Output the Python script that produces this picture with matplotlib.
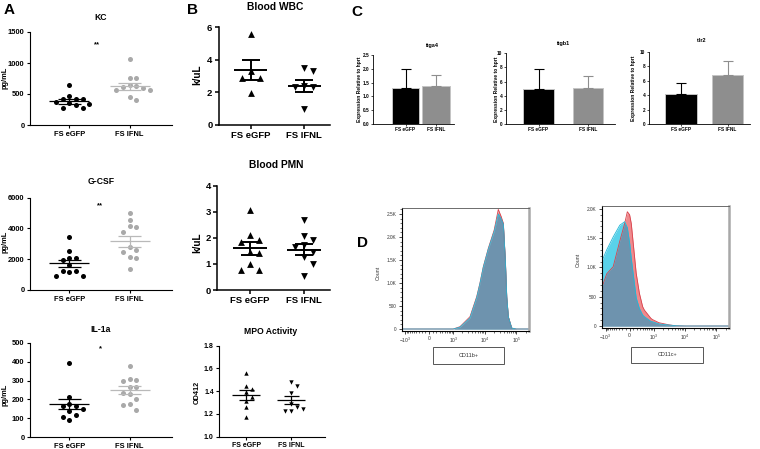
import matplotlib
matplotlib.use('Agg')
import matplotlib.pyplot as plt
import numpy as np
from matplotlib.patches import Rectangle
from matplotlib.ticker import FixedLocator

plt.rcParams['font.family'] = ['Liberation Sans', 'DejaVu Sans']
plt.rcParams['mathtext.fontset'] = 'custom'
plt.rcParams['mathtext.rm'] = 'Liberation Sans'

# ---------------- data ----------------
groups = ['FS eGFP', 'FS IFNL']

# panel A: cytokines (pg/mL)
kc_egfp = [640, 460, 427, 416, 416, 378, 351, 340, 319, 281, 281]
kc_ifnl = [1060, 755, 755, 640, 625, 610, 600, 565, 560, 450, 405]
kc_mean = [380, 625]
kc_sem = [40, 55]

gcsf_egfp = [3450, 2510, 2080, 2080, 1950, 1630, 1260, 1250, 1200, 910, 910]
gcsf_ifnl = [4980, 4570, 4160, 4100, 3790, 2820, 2600, 2470, 2140, 2080, 1340]
gcsf_mean = [1730, 3180]
gcsf_sem = [250, 360]

il1a_egfp = [391, 215, 176, 165, 165, 150, 141, 118, 109, 92]
il1a_ifnl = [377, 310, 303, 297, 268, 264, 236, 229, 202, 176, 172, 144]
il1a_mean = [176, 250]
il1a_sem = [25, 22]

# panel B: blood counts (k/uL) and MPO (OD412)
wbc_egfp = [5.6, 3.3, 2.9, 2.9, 1.95]
wbc_ifnl = [3.5, 3.3, 2.38, 2.3, 2.3, 0.98]
wbc_mean = [3.38, 2.38]
wbc_sem = [0.62, 0.37]

pmn_egfp = [3.07, 2.12, 1.92, 1.85, 1.45, 1.4, 1.0, 0.75, 0.75]
pmn_ifnl = [2.68, 2.06, 1.93, 1.72, 1.65, 1.47, 1.27, 0.98, 0.55]
pmn_mean = [1.6, 1.55]
pmn_sem = [0.24, 0.2]

mpo_egfp = [1.56, 1.45, 1.42, 1.39, 1.35, 1.31, 1.26, 1.17]
mpo_ifnl = [1.48, 1.445, 1.387, 1.287, 1.258, 1.226, 1.226, 1.24]
mpo_mean = [1.366, 1.322]
mpo_sem = [0.042, 0.035]

# panel C: expression relative to hprt (mean, SEM)
itga4_mean = [1.3, 1.38]
itga4_err = [0.68, 0.4]
itgb1_mean = [4.95, 5.05]
itgb1_err = [2.83, 1.7]
tlr2_mean = [4.15, 6.8]
tlr2_err = [1.5, 1.92]

# panel D: flow histograms (count vs fluorescence)
cd11b_x = [-1300, -500, 0, 500, 1000, 1660, 3460, 5630, 7150, 9100, 13100,
           20000, 27000, 33000, 38900, 45000, 49800, 56000, 71500, 100000, 250000]
cd11b_red = [0, 0, 0, 0, 0, 50, 267, 702, 1000, 1354, 1754,
             2150, 2600, 2450, 2300, 1500, 702, 267, 20, 0, 0]
cd11b_cyan = [0, 0, 0, 0, 0, 40, 240, 680, 990, 1340, 1740,
              2120, 2500, 2400, 2280, 1480, 690, 260, 20, 0, 0]

cd11c_x = [-1350, -920, -541, -280, -132, -60, 0, 44, 180, 280, 397,
           466, 812, 920, 1515, 3130, 5050, 10360, 100000, 250000]
cd11c_red = [650, 890, 1012, 1450, 1750, 1950, 1900, 1750, 900, 558, 330,
             273, 131, 110, 56, 20, 5, 0, 0, 0]
cd11c_cyan = [1100, 1300, 1520, 1720, 1780, 1680, 1420, 1150, 480, 300, 188,
              160, 80, 73, 35, 17, 5, 0, 0, 0]

# ---------------- figure helpers ----------------
W, H = 760, 449
fig = plt.figure(figsize=(W / 100, H / 100), dpi=100)


def add_ax(x0, y0, x1, y1):
    return fig.add_axes([x0 / W, 1 - y1 / H, (x1 - x0) / W, (y1 - y0) / H])


def ftext(x, y, s, **kw):
    kw.setdefault('ha', 'center')
    kw.setdefault('va', 'center')
    fig.text(x / W, 1 - y / H, s, **kw)


def swarm_x(ax, xc, vals, diam):
    # spread points sideways (in pixels) when their values are close
    pts = ax.transData.transform(np.column_stack([np.full(len(vals), xc), vals]))
    step = diam * 1.4
    placed = []
    xs = []
    for px, py in pts:
        for k in [0, 1, -1, 2, -2, 3, -3, 4, -4, 5, -5]:
            cx = px + k * step
            if all(abs(py - qy) >= diam * 1.3 or abs(cx - qx) >= step * 0.9
                   for qx, qy in placed):
                break
        placed.append((cx, py))
        xs.append(ax.transData.inverted().transform((cx, py))[0])
    return xs


def dot_panel(box, data, means, sems, ylim, yticks, yticklabels, xlim, st):
    ax = add_ax(*box)
    ax.set_xlim(*xlim)
    ax.set_ylim(*ylim)
    for i, vals in enumerate(data):
        xs = swarm_x(ax, i, vals, st['diam'])
        ax.scatter(xs, vals, s=st['s'], marker=st['markers'][i], color=st['colors'][i],
                   linewidths=0, clip_on=False, zorder=3)
        lc = st['lcolors'][i]
        ax.hlines(means[i], i - st['half'], i + st['half'], color=lc, lw=st['lw'], zorder=4)
        ax.vlines(i, means[i] - sems[i], means[i] + sems[i], color=lc, lw=st['lw'], zorder=4)
        ax.hlines([means[i] - sems[i], means[i] + sems[i]], i - st['cap'], i + st['cap'],
                  color=lc, lw=st['lw'], zorder=4)
    for side in ['top', 'right']:
        ax.spines[side].set_visible(False)
    for side in ['left', 'bottom']:
        ax.spines[side].set_linewidth(st['spine'])
    ax.set_xticks([0, 1])
    ax.set_xticklabels(groups, fontsize=st['fs'], fontweight='bold')
    ax.set_yticks(yticks)
    ax.set_yticklabels(yticklabels, fontsize=st['fs'], fontweight='bold')
    ax.tick_params(length=st['tick'], width=st['spine'], pad=1.5)
    ax.patch.set_alpha(0)
    return ax


style_a = dict(diam=4.8, s=13, markers=['o', 'o'], colors=['black', '#a9a9a9'],
               lcolors=['black', '#b9b9b9'], half=0.33, cap=0.19, lw=0.9,
               spine=0.8, fs=5.4, tick=2.5)
style_b = dict(diam=6.5, s=24, markers=['^', 'v'], colors=['black', 'black'],
               lcolors=['black', 'black'], half=0.31, cap=0.17, lw=1.4,
               spine=1.1, fs=6.8, tick=3)
style_mpo = dict(diam=4.2, s=10, markers=['^', 'v'], colors=['black', 'black'],
                 lcolors=['black', 'black'], half=0.31, cap=0.17, lw=0.9,
                 spine=0.8, fs=5.0, tick=2.5)

# ---------------- panel A ----------------
xa = (-0.65, 1.7)
ax = dot_panel((30, 32, 172, 125), [kc_egfp, kc_ifnl], kc_mean, kc_sem, (0, 1500),
               [0, 500, 1000, 1500], ['0', '500', '1000', '1500'], xa, style_a)
ax.text(0.46, 1290, '**', fontsize=5.5, fontweight='bold', ha='center', va='center')
ftext(101, 17, 'KC', fontsize=6.2, fontweight='bold')
ftext(5, 78, 'pg/mL', fontsize=5.4, fontweight='bold', rotation=90)

ax = dot_panel((30, 197.7, 172, 290), [gcsf_egfp, gcsf_ifnl], gcsf_mean, gcsf_sem, (0, 6000),
               [0, 2000, 4000, 6000], ['0', '2000', '4000', '6000'], xa, style_a)
ax.text(0.51, 5500, '**', fontsize=5.5, fontweight='bold', ha='center', va='center')
ftext(101, 182, 'G-CSF', fontsize=6.2, fontweight='bold')
ftext(5, 242, 'pg/mL', fontsize=5.4, fontweight='bold', rotation=90)

ax = dot_panel((30, 342.7, 172, 437.3), [il1a_egfp, il1a_ifnl], il1a_mean, il1a_sem, (0, 500),
               [0, 100, 200, 300, 400, 500], ['0', '100', '200', '300', '400', '500'], xa, style_a)
ax.text(0.51, 470, '*', fontsize=5.5, fontweight='bold', ha='center', va='center')
ftext(101, 329, 'IL-1a', fontsize=6.2, fontweight='bold')
ftext(5, 395, 'pg/mL', fontsize=5.4, fontweight='bold', rotation=90)

ftext(9, 10, 'A', fontsize=11, fontweight='bold')

# ---------------- panel B ----------------
xb = (-0.6, 1.48)
ax = dot_panel((218.7, 27.3, 330, 124.7), [wbc_egfp, wbc_ifnl], wbc_mean, wbc_sem, (0, 6),
               [0, 2, 4, 6], ['0', '2', '4', '6'], xb, style_b)
ftext(275, 7, 'Blood WBC', fontsize=7.4, fontweight='bold')
ftext(197, 75, 'k/uL', fontsize=7.2, fontweight='bold', rotation=90)

ax = dot_panel((217.3, 185.7, 330, 290), [pmn_egfp, pmn_ifnl], pmn_mean, pmn_sem, (0, 4),
               [0, 1, 2, 3, 4], ['0', '1', '2', '3', '4'], xb, style_b)
ftext(276.7, 165, 'Blood PMN', fontsize=7.4, fontweight='bold')
ftext(197, 243, 'k/uL', fontsize=7.2, fontweight='bold', rotation=90)

ax = dot_panel((219.3, 345.7, 325, 436.7), [mpo_egfp, mpo_ifnl], mpo_mean, mpo_sem, (1.0, 1.8),
               [1.0, 1.2, 1.4, 1.6, 1.8], ['1.0', '1.2', '1.4', '1.6', '1.8'], (-0.6, 1.75),
               style_mpo)
ftext(271, 331, 'MPO Activity', fontsize=6.2, fontweight='bold')
ftext(197.3, 392, 'OD412', fontsize=5.2, fontweight='bold', rotation=90)

ftext(193, 10, 'B', fontsize=11, fontweight='bold')

# ---------------- panel C ----------------
bar_colors = ['black', '#8e8e8e']


def bar_panel(box, means, errs, ylim, yticks, yticklabels, xlim, width):
    ax = add_ax(*box)
    ax.bar([0, 1], means, width=width, color=bar_colors, edgecolor='#c4c4c4', linewidth=0.7)
    for i in range(2):
        ax.errorbar(i, means[i], yerr=[[0], [errs[i]]], color=bar_colors[i],
                    elinewidth=0.8, capsize=3.5, capthick=0.8)
    ax.set_xlim(*xlim)
    ax.set_ylim(*ylim)
    for side in ['top', 'right']:
        ax.spines[side].set_visible(False)
    for side in ['left', 'bottom']:
        ax.spines[side].set_linewidth(0.6)
    ax.set_xticks([0, 1])
    ax.set_xticklabels(groups, fontsize=3.4, fontweight='bold')
    ax.set_yticks(yticks)
    ax.set_yticklabels(yticklabels, fontsize=3.4, fontweight='bold')
    ax.tick_params(length=1.5, width=0.5, pad=1)
    ax.patch.set_alpha(0)
    return ax


bar_panel((373.3, 55, 454, 124), itga4_mean, itga4_err, (0, 2.5),
          [0, 0.5, 1.0, 1.5, 2.0, 2.5], ['0.0', '0.5', '1.0', '1.5', '2.0', '2.5'],
          (-1.063, 1.6), 0.91)
ftext(431.7, 45, 'itga4', fontsize=4, fontweight='bold')
ftext(360, 89, 'Expression Relative to hprt', fontsize=3.6, fontweight='bold', rotation=90)

bar_panel((506, 53.3, 615, 124), itgb1_mean, itgb1_err, (0, 10),
          [0, 2, 4, 6, 8, 10], ['0', '2', '4', '6', '8', '10'], (-0.66, 1.55), 0.62)
ftext(563, 44, 'itgb1', fontsize=4, fontweight='bold')
ftext(496.7, 89, 'Expression Relative to hprt', fontsize=3.6, fontweight='bold', rotation=90)

bar_panel((649, 51.7, 750, 124), tlr2_mean, tlr2_err, (0, 10),
          [0, 2, 4, 6, 8, 10], ['0', '2', '4', '6', '8', '10'], (-0.68, 1.48), 0.68)
ftext(701.7, 40, 'tlr2', fontsize=4, fontweight='bold')
ftext(634, 88, 'Expression Relative to hprt', fontsize=3.6, fontweight='bold', rotation=90)

ftext(357, 12, 'C', fontsize=11, fontweight='bold')

# ---------------- panel D ----------------
red_fill, red_edge = '#ef8a8d', '#d9414b'
cyan_fill, cyan_edge = '#5ad2ea', '#23b6d6'
overlap = '#6e93ae'
xmajor = [-1000, 0, 1000, 10000, 100000]
xmajor_lbl = [r'$-10^3$', '0', r'$10^3$', r'$10^4$', r'$10^5$']
xminor = ([-k * 100 for k in range(1, 10)] + [k * 100 for k in range(1, 10)]
          + [k * 10 ** d for d in (3, 4) for k in range(2, 10)] + [200000])


def hist_panel(box, x, red, cyan, ylim, yticks, yticklabels, xlim, label, label_box):
    ax = add_ax(*box)
    ax.set_xscale('asinh', linear_width=361)
    x = np.array(x, dtype=float)
    red = np.array(red, dtype=float)
    cyan = np.array(cyan, dtype=float)
    ax.fill_between(x, red, color=red_fill, lw=0)
    ax.fill_between(x, cyan, color=cyan_fill, lw=0)
    ax.fill_between(x, np.minimum(red, cyan), color=overlap, lw=0)
    ax.plot(x, red, color=red_edge, lw=0.6)
    ax.plot(x, cyan, color=cyan_edge, lw=0.6)
    ax.set_xlim(*xlim)
    ax.set_ylim(*ylim)
    ax.xaxis.set_major_locator(FixedLocator(xmajor))
    ax.set_xticklabels(xmajor_lbl, fontsize=3.6, color='#333333')
    ax.xaxis.set_minor_locator(FixedLocator(xminor))
    ax.set_yticks(yticks)
    ax.set_yticklabels(yticklabels, fontsize=3.4, color='#333333')
    ax.yaxis.set_minor_locator(FixedLocator(np.arange(100, ylim[1], 100)))
    ax.tick_params(which='major', length=2.2, width=0.5, pad=1.5)
    ax.tick_params(which='minor', length=1.1, width=0.4)
    ax.spines['right'].set_color('#a8a8a8')
    ax.spines['right'].set_linewidth(1.8)
    ax.spines['top'].set_color('#555555')
    ax.spines['top'].set_linewidth(0.6)
    ax.spines['left'].set_linewidth(0.8)
    ax.spines['bottom'].set_linewidth(0.8)
    x0, y0, x1, y1 = label_box
    fig.add_artist(Rectangle((x0 / W, 1 - y1 / H), (x1 - x0) / W, (y1 - y0) / H,
                             transform=fig.transFigure, fill=False, ec='#555555', lw=0.7))
    ftext((x0 + x1) / 2, (y0 + y1) / 2, label, fontsize=4, color='#333333')
    return ax


hist_panel((401.7, 208.3, 529, 330.7), cd11b_x, cd11b_red, cd11b_cyan, (-37, 2624),
           [0, 500, 1000, 1500, 2000, 2500], ['0', '500', '1.0K', '1.5K', '2.0K', '2.5K'],
           (-1300, 250000), 'CD11b+', (433.3, 347.3, 504.3, 364))
ftext(378.3, 273, 'Count', fontsize=3.8, color='#333333', rotation=90)

hist_panel((601.7, 205.7, 729, 327.7), cd11c_x, cd11c_red, cd11c_cyan, (-29, 2053),
           [0, 500, 1000, 1500, 2000], ['0', '500', '1.0K', '1.5K', '2.0K'],
           (-1350, 250000), 'CD11c+', (631, 346.7, 703.3, 363.3))
ftext(578.3, 260, 'Count', fontsize=3.8, color='#333333', rotation=90)

ftext(362, 243, 'D', fontsize=11, fontweight='bold')

fig.savefig('out.png', dpi=100)
